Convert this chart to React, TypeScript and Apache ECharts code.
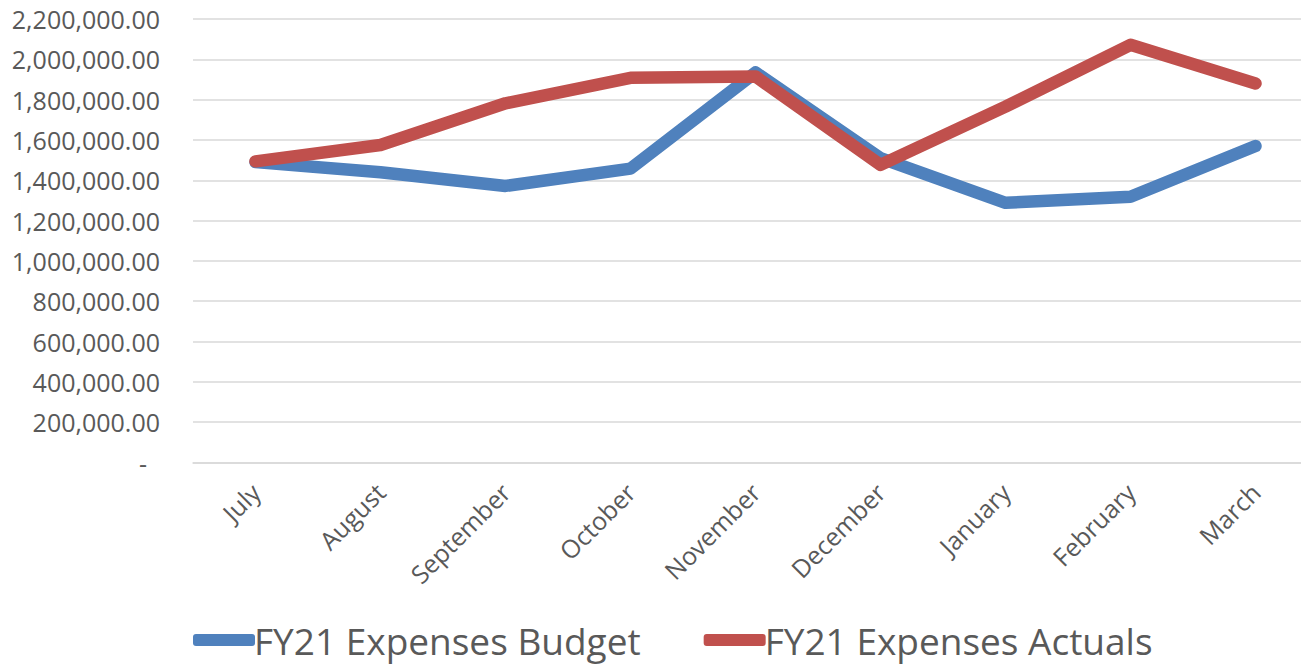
import React, { useEffect, useRef } from "react";
import * as echarts from "echarts";

const months = ["July", "August", "September", "October", "November", "December", "January", "February", "March"];
const budget = [1490000, 1440000, 1372000, 1458000, 1935000, 1510000, 1288000, 1318000, 1570000];
const actuals = [1494000, 1575000, 1782000, 1908000, 1915000, 1476000, 1765000, 2072000, 1880000];
const seriesNames = ["FY21 Expenses Budget", "FY21 Expenses Actuals"];

const FONT = "'Open Sans', 'Noto Sans', sans-serif";
const TEXT = "#595959";

function fmt(v: number): string {
  if (v === 0) return "{z|-}";
  return v.toLocaleString("en-US", { minimumFractionDigits: 2, maximumFractionDigits: 2 });
}

export default function App() {
  const ref = useRef<HTMLDivElement>(null);
  useEffect(() => {
    if (!ref.current) return;
    const chart = echarts.init(ref.current, null, { renderer: "svg" });
    chart.setOption({
      animation: false,
      backgroundColor: "#ffffff",
      grid: {
        left: 193,
        width: 1125,
        top: 19,
        bottom: 203.5,
        containLabel: false,
        outerBoundsMode: "none",
      },
      legend: {
        left: 188,
        top: 615,
        itemWidth: 62,
        itemHeight: 12,
        itemGap: 63,
        icon: "roundRect",
        textStyle: { fontFamily: FONT, fontSize: 37, lineHeight: 40, color: TEXT, padding: [0, 0, 0, -6] },
        data: seriesNames,
      },
      xAxis: {
        type: "category",
        data: months,
        boundaryGap: true,
        axisLine: { show: true, lineStyle: { color: "#D9D9D9", width: 1.5 } },
        axisTick: { show: false },
        axisLabel: {
          rotate: 45,
          margin: 25,
          interval: 0,
          fontFamily: FONT,
          fontSize: 25,
          color: TEXT,
        },
      },
      yAxis: {
        type: "value",
        min: 0,
        max: 2200000,
        interval: 200000,
        axisLine: { show: false },
        axisTick: { show: false },
        splitLine: { lineStyle: { color: "#D9D9D9", width: 1.5 } },
        axisLabel: {
          margin: 33,
          fontFamily: FONT,
          fontSize: 25,
          color: TEXT,
          formatter: fmt,
          rich: { z: { fontFamily: FONT, fontSize: 25, color: TEXT, padding: [0, 13, 0, 0] } },
        },
      },
      series: [
        {
          name: seriesNames[0],
          type: "line",
          data: budget,
          symbol: "none",
          lineStyle: { color: "#4F81BD", width: 12.5, cap: "round", join: "round" },
          itemStyle: { color: "#4F81BD" },
        },
        {
          name: seriesNames[1],
          type: "line",
          data: actuals,
          symbol: "none",
          lineStyle: { color: "#C0504D", width: 12.5, cap: "round", join: "round" },
          itemStyle: { color: "#C0504D" },
        },
      ],
    });
    return () => chart.dispose();
  }, []);
  return (
    <div
      ref={ref}
      style={{ position: "absolute", left: 0, top: 0, width: 1301, height: 666, background: "#fff" }}
    />
  );
}
